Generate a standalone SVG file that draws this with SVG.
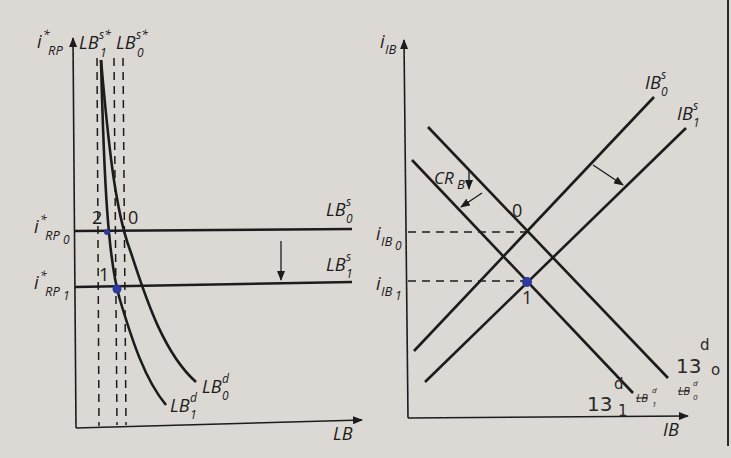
<svg xmlns="http://www.w3.org/2000/svg" width="731" height="458" viewBox="0 0 731 458">
<style>
.t{font-family:"Open Sans","Liberation Sans",sans-serif;font-style:italic;fill:#1c1c1c;font-size:18px}
.s{font-size:12px}
.m{font-size:13px}
.x{font-size:11px;text-decoration:line-through}
.xs{font-size:8px}
.n{font-family:"Open Sans","Liberation Sans",sans-serif;fill:#1c1c1c;font-size:18px}
.hw{font-family:"DejaVu Sans",sans-serif;fill:#2a2a2a;font-size:20px}
.hs{font-size:15px}
.ax{stroke:#1c1c1c;stroke-width:1.6;fill:none}
.ln{stroke:#1c1c1c;stroke-width:2.6;fill:none}
.dash{stroke:#1c1c1c;stroke-width:1.5;stroke-dasharray:8,6;fill:none}
.ar{stroke:#1c1c1c;stroke-width:1.3;fill:none}
.dot{fill:#2b3a9c}
</style>
<defs>
<marker id="ah" markerWidth="10" markerHeight="8" refX="9" refY="4" orient="auto" markerUnits="userSpaceOnUse">
<path d="M0,0 L10,4 L0,8 Z" fill="#1c1c1c"/>
</marker>
</defs>
<rect width="731" height="458" fill="#dcd8d4"/>
<line x1="728" y1="0" x2="728" y2="446" stroke="#2a2a2a" stroke-width="2"/>

<g id="left-panel">
<g id="left-axes">
<line class="ax" x1="76" y1="428" x2="73" y2="38" marker-end="url(#ah)"/>
<line class="ax" x1="76" y1="428" x2="362" y2="420" marker-end="url(#ah)"/>
</g>
<g id="left-dashes">
<line class="dash" x1="97" y1="58" x2="99" y2="426"/>
<line class="dash" x1="114" y1="58" x2="117" y2="425"/>
<line class="dash" x1="123" y1="58" x2="126" y2="425"/>
</g>
<g id="left-curves">
<path class="ln" d="M101,60 C104,180 108,260 120,300 S145,380 166,405"/>
<path class="ln" d="M101,60 C108,140 115,210 130,250 C142,285 160,350 196,382"/>
<line class="ln" x1="75" y1="231" x2="352" y2="229"/>
<line class="ln" x1="75" y1="287" x2="352" y2="282"/>
<line class="ar" x1="281" y1="241" x2="281" y2="280" marker-end="url(#ah)"/>
</g>
<circle class="dot" cx="107" cy="232" r="3"/>
<circle class="dot" cx="117" cy="289" r="4.5"/>
<g id="left-labels">
<text class="t" x="37" y="48">i</text><text class="t s" x="43" y="39">*</text><text class="t m" x="48" y="55">RP</text>
<text class="t" x="79" y="49">LB</text><text class="t s" x="99" y="39">s*</text><text class="t s" x="100" y="57">1</text>
<text class="t" x="116" y="49">LB</text><text class="t s" x="136" y="39">s*</text><text class="t s" x="137" y="57">0</text>
<text class="t" x="34" y="233">i</text><text class="t s" x="40" y="224">*</text><text class="t m" x="45" y="240">RP</text><text class="t s" x="63" y="244">0</text>
<text class="t" x="34" y="289">i</text><text class="t s" x="40" y="280">*</text><text class="t m" x="45" y="296">RP</text><text class="t s" x="63" y="300">1</text>
<text class="n" x="92" y="224">2</text>
<text class="n" x="128" y="224">0</text>
<text class="n" x="99" y="281">1</text>
<text class="t" x="326" y="216">LB</text><text class="t s" x="346" y="206">s</text><text class="t s" x="346" y="223">0</text>
<text class="t" x="326" y="271">LB</text><text class="t s" x="346" y="261">s</text><text class="t s" x="346" y="278">1</text>
<text class="t" x="202" y="393">LB</text><text class="t s" x="222" y="383">d</text><text class="t s" x="222" y="400">0</text>
<text class="t" x="170" y="412">LB</text><text class="t s" x="190" y="402">d</text><text class="t s" x="190" y="419">1</text>
<text class="t" x="333" y="440">LB</text>
</g>
</g>

<g id="right-panel">
<g id="right-axes">
<line class="ax" x1="408" y1="418" x2="404" y2="40" marker-end="url(#ah)"/>
<line class="ax" x1="408" y1="418" x2="688" y2="416" marker-end="url(#ah)"/>
</g>
<g id="right-lines">
<line class="ln" x1="414" y1="351" x2="654" y2="97"/>
<line class="ln" x1="425" y1="382" x2="686" y2="128"/>
<line class="ln" x1="428" y1="127" x2="668" y2="378"/>
<line class="ln" x1="412" y1="160" x2="633" y2="393"/>
<line class="dash" x1="408" y1="232" x2="526" y2="232"/>
<line class="dash" x1="408" y1="281" x2="527" y2="281"/>
<line class="ar" x1="593" y1="165" x2="623" y2="185" marker-end="url(#ah)"/>
<line class="ar" x1="482" y1="193" x2="461" y2="207" marker-end="url(#ah)"/>
<line class="ar" x1="469" y1="171" x2="469" y2="189" marker-end="url(#ah)"/>
</g>
<circle class="dot" cx="527" cy="282" r="5"/>
<g id="right-labels">
<text class="t" x="380" y="48">i</text><text class="t m" x="385" y="54">IB</text>
<text class="t" x="376" y="240">i</text><text class="t m" x="381" y="246">IB</text><text class="t s" x="395" y="250">0</text>
<text class="t" x="376" y="290">i</text><text class="t m" x="381" y="296">IB</text><text class="t s" x="395" y="300">1</text>
<text class="n" x="512" y="217">0</text>
<text class="n" x="522" y="304">1</text>
<text class="t" x="434" y="184" style="font-size:17px">CR</text><text class="t m" x="457" y="189">B</text>
<text class="t" x="645" y="89">IB</text><text class="t s" x="661" y="79">s</text><text class="t s" x="661" y="96">0</text>
<text class="t" x="677" y="120">IB</text><text class="t s" x="693" y="110">s</text><text class="t s" x="693" y="127">1</text>
<text class="t" x="663" y="436">IB</text>
<text class="t x" x="678" y="395">LB</text><text class="t xs" x="693" y="386">d</text><text class="t xs" x="693" y="400">0</text>
<text class="t x" x="636" y="402">LB</text><text class="t xs" x="652" y="393">d</text><text class="t xs" x="652" y="407">1</text>
<text class="hw" x="676" y="373">13</text><text class="hw hs" x="700" y="350">d</text><text class="hw hs" x="711" y="375">o</text>
<text class="hw" x="587" y="411">13</text><text class="hw hs" x="614" y="389">d</text><text class="hw hs" x="618" y="416">1</text>
</g>
</g>
</svg>
